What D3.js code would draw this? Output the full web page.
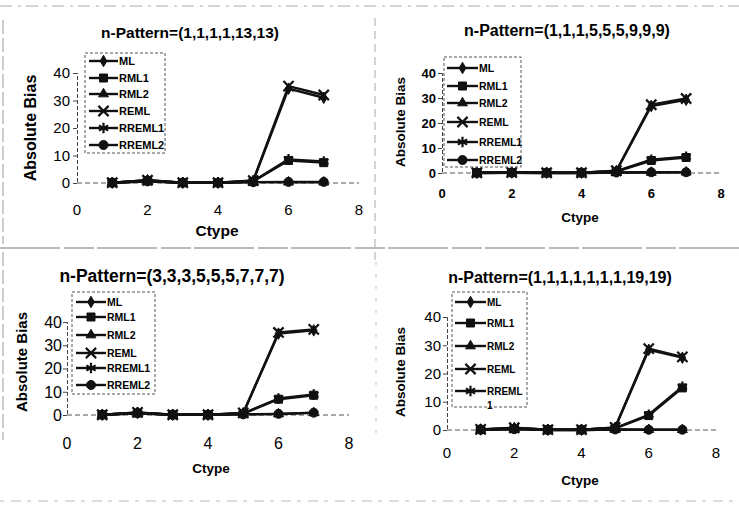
<!DOCTYPE html>
<html>
<head>
<meta charset="utf-8">
<script src="https://cdn.jsdelivr.net/npm/d3@7"></script>
<style>
  body { margin: 0; background: #fff; }
  svg { font-family: "Liberation Sans", Arial, sans-serif; }
</style>
</head>
<body>
<div id="chart"></div>
<script>
var svgWidth = 739;
var svgHeight = 510;

// data
var ctype = [1, 2, 3, 4, 5, 6, 7];
var seriesNames = ["ML", "RML1", "RML2", "REML", "RREML1", "RREML2"];
var xTicks = [0, 2, 4, 6, 8];
var yTicks = [0, 10, 20, 30, 40];
var titles = ["n-Pattern=(1,1,1,1,13,13)", "n-Pattern=(1,1,1,5,5,5,9,9,9)",
              "n-Pattern=(3,3,3,5,5,5,7,7,7)", "n-Pattern=(1,1,1,1,1,1,1,19,19)"];

// one row per series, same order as seriesNames
var biasPanel1 = [
  [0.1, 1.0, 0.1, 0.1, 0.8, 34.3, 31.0],
  [0.1, 0.8, 0.1, 0.1, 0.6, 8.2, 7.4],
  [0.1, 0.6, 0.1, 0.1, 0.3, 0.3, 0.3],
  [0.1, 1.0, 0.1, 0.1, 0.9, 35.2, 32.0],
  [0.1, 0.9, 0.1, 0.1, 0.7, 8.6, 7.8],
  [0.1, 0.6, 0.1, 0.1, 0.3, 0.4, 0.4]
];
var biasPanel2 = [
  [0.1, 0.2, 0.1, 0.1, 0.8, 26.8, 29.3],
  [0.1, 0.2, 0.1, 0.1, 0.6, 5.0, 6.2],
  [0.0, 0.1, 0.0, 0.0, 0.2, 0.2, 0.3],
  [0.1, 0.2, 0.1, 0.1, 0.9, 27.3, 29.8],
  [0.1, 0.2, 0.1, 0.1, 0.7, 5.3, 6.5],
  [0.0, 0.1, 0.0, 0.0, 0.2, 0.3, 0.3]
];
var biasPanel3 = [
  [0.1, 1.0, 0.1, 0.1, 0.8, 35.0, 36.4],
  [0.1, 0.9, 0.1, 0.1, 0.6, 6.8, 8.5],
  [0.1, 0.7, 0.1, 0.1, 0.3, 0.4, 0.9],
  [0.1, 1.1, 0.1, 0.1, 0.9, 35.5, 36.8],
  [0.1, 1.0, 0.1, 0.1, 0.7, 7.1, 8.8],
  [0.1, 0.7, 0.1, 0.1, 0.3, 0.5, 1.0]
];
var biasPanel4 = [
  [0.2, 0.7, 0.1, 0.1, 0.8, 28.4, 25.6],
  [0.2, 0.5, 0.1, 0.1, 0.6, 5.1, 14.9],
  [0.1, 0.3, 0.0, 0.0, 0.2, 0.1, 0.1],
  [0.2, 0.8, 0.1, 0.1, 0.9, 28.8, 25.9],
  [0.2, 0.6, 0.1, 0.1, 0.7, 5.4, 15.3],
  [0.1, 0.3, 0.0, 0.0, 0.2, 0.1, 0.1]
];
var panelData = [biasPanel1, biasPanel2, biasPanel3, biasPanel4];

// marker per series
var markers = [
  { type: d3.symbolDiamond, size: 38, fill: true },
  { type: d3.symbolSquare, size: 64, fill: true },
  { type: d3.symbolTriangle, size: 42, fill: true },
  { type: d3.symbolTimes, size: 70, fill: false },
  { type: d3.symbolAsterisk, size: 80, fill: false },
  { type: d3.symbolCircle, size: 64, fill: true }
];

// layout of each scanned panel
var panels = [
  { x0: 77, x8: 359, yb: 183, yt: 73, title: [190, 38, 15.5], tick: [15, "normal"],
    xLab: 215, cty: [217, 236, 15.5], bias: [30, 128, 16], ylabX: 70,
    legend: { x: 85, y: 53, w: 80, h: 100, rows: [61, 78, 94, 111, 128, 145], font: 11, line: [89, 118] } },
  { x0: 442, x8: 721, yb: 173, yt: 73, title: [567, 36, 16], tick: [13, "bold"],
    xLab: 198, cty: [580, 222, 13.5], bias: [400, 122, 13.5], ylabX: 436,
    legend: { x: 444, y: 57, w: 77, h: 110, rows: [68, 86, 103, 122, 142, 160], font: 10.5, line: [447, 478] } },
  { x0: 67, x8: 349, yb: 415, yt: 322, title: [172, 282, 17.5], tick: [16, "normal"],
    xLab: 449, cty: [211, 473, 13.5], bias: [22, 362, 15], ylabX: 62,
    legend: { x: 72, y: 292, w: 83, h: 102, rows: [302, 317, 335, 353, 368, 385], font: 10.5, line: [76, 106] } },
  { x0: 447, x8: 716, yb: 430, yt: 317, title: [560, 283, 16], tick: [15, "normal"],
    xLab: 458, cty: [580, 485, 13.5], bias: [400, 372, 13.5], ylabX: 441,
    legend: { x: 452, y: 292, w: 75, h: 115, rows: [302, 323, 346, 369, 391], font: 10, line: [455, 486], wrap: true } }
];

var svg = d3.select("#chart")
  .append("svg")
  .attr("width", svgWidth)
  .attr("height", svgHeight);

svg.append("rect").attr("width", svgWidth).attr("height", svgHeight).attr("fill", "#fff");

// scan frame lines
var frame = svg.append("g").attr("fill", "none").attr("stroke", "#777");
frame.append("line").attr("x1", 0).attr("x2", 739).attr("y1", 248).attr("y2", 248)
  .attr("stroke-width", 1.2).attr("stroke-dasharray", "60,4,30,3");
frame.append("line").attr("x1", 0).attr("x2", 739).attr("y1", 6).attr("y2", 6)
  .attr("stroke", "#aaa").attr("stroke-dasharray", "12,6,3,5");
frame.append("line").attr("x1", 0).attr("x2", 739).attr("y1", 501).attr("y2", 501)
  .attr("stroke", "#bbb").attr("stroke-dasharray", "4,7,10,6");
frame.append("line").attr("x1", 3).attr("x2", 3).attr("y1", 20).attr("y2", 244)
  .attr("stroke", "#999").attr("stroke-dasharray", "14,4");
frame.append("line").attr("x1", 3).attr("x2", 3).attr("y1", 252).attr("y2", 440)
  .attr("stroke", "#999").attr("stroke-dasharray", "14,4");
frame.append("line").attr("x1", 375).attr("x2", 375).attr("y1", 18).attr("y2", 262)
  .attr("stroke", "#aaa").attr("stroke-dasharray", "8,5");
frame.append("line").attr("x1", 376).attr("x2", 376).attr("y1", 262).attr("y2", 440)
  .attr("stroke", "#bbb").attr("stroke-dasharray", "3,9");

function drawMarker(g, m, x, y) {
  g.append("path")
    .attr("d", d3.symbol().type(m.type).size(m.size))
    .attr("transform", `translate(${x},${y})`)
    .attr("fill", m.fill ? "#111" : "none")
    .attr("stroke", "#111")
    .attr("stroke-width", m.fill ? 1 : 2.2);
}

panels.forEach(function(p, i) {
  var g = svg.append("g");
  var xScale = d3.scaleLinear().domain([0, 8]).range([p.x0, p.x8]);
  var yScale = d3.scaleLinear().domain([0, 40]).range([p.yb, p.yt]);

  // title
  g.append("text")
    .attr("x", p.title[0]).attr("y", p.title[1])
    .attr("text-anchor", "middle")
    .style("font-size", p.title[2] + "px").style("font-weight", "bold")
    .text(titles[i]);

  // y axis
  var leftAxis = d3.axisLeft(yScale).tickValues(yTicks).tickSize(4).tickFormat("");
  var yAxis = g.append("g").attr("transform", `translate(${p.x0},0)`).call(leftAxis);
  yAxis.select(".domain").attr("stroke", "#444").attr("stroke-dasharray", "4,2");
  yAxis.selectAll(".tick line").attr("stroke", "#444");
  g.selectAll(".ylab")
    .data(yTicks).enter().append("text")
    .attr("x", p.ylabX).attr("y", d => yScale(d))
    .attr("dy", "0.36em").attr("text-anchor", "end")
    .style("font-size", p.tick[0] + "px").style("font-weight", p.tick[1])
    .text(d => d);

  // x axis at zero
  g.append("line")
    .attr("x1", xScale(0)).attr("x2", xScale(8))
    .attr("y1", yScale(0)).attr("y2", yScale(0))
    .attr("stroke", "#555").attr("stroke-dasharray", "5,3");
  g.selectAll(".xlab")
    .data(xTicks).enter().append("text")
    .attr("x", d => xScale(d)).attr("y", p.xLab)
    .attr("text-anchor", "middle")
    .style("font-size", p.tick[0] + "px").style("font-weight", p.tick[1])
    .text(d => d);

  // axis titles
  g.append("text")
    .attr("x", p.cty[0]).attr("y", p.cty[1])
    .attr("text-anchor", "middle")
    .style("font-size", p.cty[2] + "px").style("font-weight", "bold")
    .text("Ctype");
  g.append("text")
    .attr("transform", `translate(${p.bias[0]},${p.bias[1]}) rotate(-90)`)
    .attr("text-anchor", "middle").attr("dy", "0.36em")
    .style("font-size", p.bias[2] + "px").style("font-weight", "bold")
    .text("Absolute Bias");

  // series
  var line = d3.line().x((d, k) => xScale(ctype[k])).y(d => yScale(d));
  panelData[i].forEach(function(vals, s) {
    g.append("path")
      .attr("d", line(vals))
      .attr("fill", "none").attr("stroke", "#111")
      .attr("stroke-width", 2.4).attr("stroke-linejoin", "round");
    vals.forEach(function(v, k) {
      drawMarker(g, markers[s], xScale(ctype[k]), yScale(v));
    });
  });

  // legend
  var L = p.legend;
  var lg = g.append("g");
  lg.append("rect")
    .attr("x", L.x).attr("y", L.y).attr("width", L.w).attr("height", L.h)
    .attr("fill", "#fff").attr("stroke", "#555").attr("stroke-dasharray", "3,2");
  L.rows.forEach(function(ry, s) {
    lg.append("line")
      .attr("x1", L.line[0]).attr("x2", L.line[1]).attr("y1", ry).attr("y2", ry)
      .attr("stroke", "#111").attr("stroke-width", 2.4);
    drawMarker(lg, markers[s], (L.line[0] + L.line[1]) / 2, ry);
    var name = seriesNames[s];
    var t = lg.append("text")
      .attr("x", L.line[1] + 1).attr("y", ry).attr("dy", "0.36em")
      .style("font-size", L.font + "px").style("font-weight", "bold");
    if (L.wrap && s === L.rows.length - 1) {
      t.text(name.slice(0, -1));
      lg.append("text")
        .attr("x", L.line[1] + 1).attr("y", ry + 14).attr("dy", "0.36em")
        .style("font-size", L.font + "px").style("font-weight", "bold")
        .text(name.slice(-1));
    } else {
      t.text(name);
    }
  });
});
</script>
</body>
</html>
